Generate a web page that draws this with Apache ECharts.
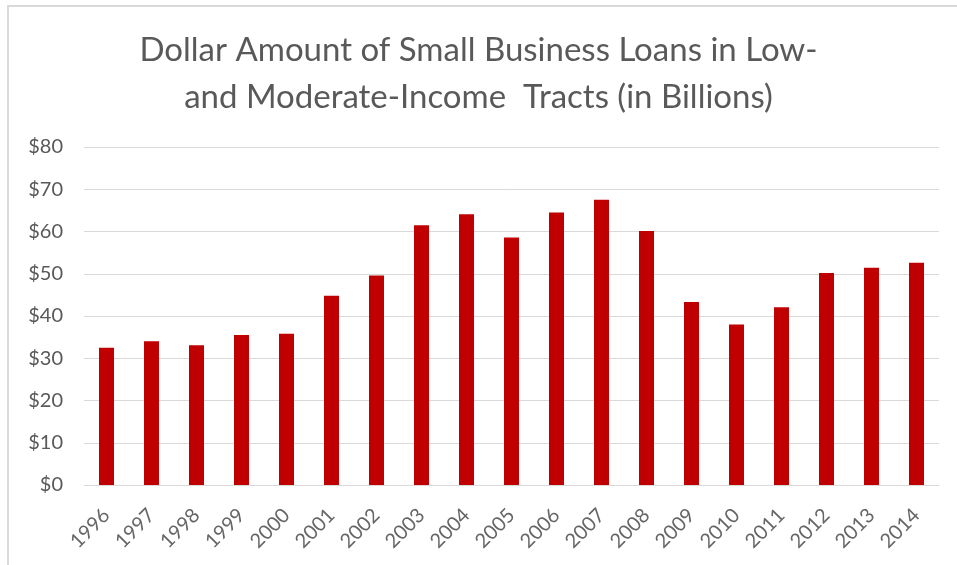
<!DOCTYPE html>
<html>
<head>
<meta charset="utf-8">
<script src="https://cdn.jsdelivr.net/npm/echarts@6/dist/echarts.min.js"></script>
<style>
  html, body { margin: 0; padding: 0; background: #fff; }
  #chart { width: 957px; height: 565px; }
</style>
</head>
<body>
<div id="chart"></div>
<script>
// Small business lending in low- and moderate-income tracts, billions of dollars
const years = ['1996','1997','1998','1999','2000','2001','2002','2003','2004','2005',
               '2006','2007','2008','2009','2010','2011','2012','2013','2014'];
const loanAmounts = [32.5, 34.0, 33.1, 35.5, 35.8, 44.8, 49.6, 61.5, 64.1, 58.6,
                     64.5, 67.5, 60.1, 43.3, 38.0, 42.1, 50.2, 51.4, 52.6];
const yTicks = { min: 0, max: 80, interval: 10 };
const titleText = 'Dollar Amount of Small Business Loans in Low-\nand Moderate-Income  Tracts (in Billions)';

const chart = echarts.init(document.getElementById('chart'));
const FONT = 'Lato';
const GRAY = '#595959';

chart.setOption({
  backgroundColor: '#fff',
  animation: false,
  title: {
    text: titleText,
    left: 'center',
    top: 22,
    textStyle: {
      fontFamily: FONT,
      fontSize: 33,
      fontWeight: 'normal',
      color: GRAY,
      lineHeight: 47
    }
  },
  graphic: [
    {
      type: 'polyline',
      shape: { points: [[8, 600], [8, 6], [1000, 6]] },
      style: { stroke: '#d9d9d9', lineWidth: 2, fill: null },
      silent: true
    }
  ],
  grid: { left: 84, right: 18, top: 147, bottom: 80, containLabel: false },
  xAxis: {
    type: 'category',
    data: years,
    axisLine: { show: true, lineStyle: { color: '#d9d9d9', width: 1 } },
    axisTick: { show: false },
    axisLabel: {
      rotate: 45,
      margin: 27,
      fontFamily: FONT,
      fontSize: 20,
      color: '#666666'
    }
  },
  yAxis: {
    type: 'value',
    min: yTicks.min,
    max: yTicks.max,
    interval: yTicks.interval,
    axisLine: { show: false },
    axisTick: { show: false },
    splitLine: { lineStyle: { color: '#d9d9d9', width: 1 } },
    axisLabel: {
      margin: 21,
      fontFamily: FONT,
      fontSize: 20,
      color: GRAY,
      formatter: v => '$' + v
    }
  },
  series: [{
    type: 'bar',
    data: loanAmounts,
    barWidth: 15,
    itemStyle: { color: '#c00000' }
  }]
});
</script>
</body>
</html>
